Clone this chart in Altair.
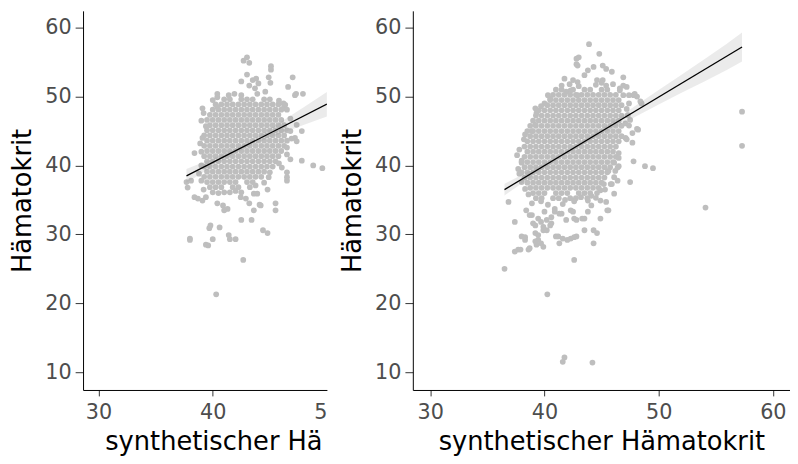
import altair as alt
import pandas as pd

# ---------------- data ----------------
# left panel: dense core, given as rows (y value, x values)
left_core_y = [49.6, 48.85, 48.1, 47.35, 46.6, 45.85, 45.1, 44.35, 43.6, 42.85,
               42.1, 41.35, 40.6, 39.85, 39.1, 38.35, 37.6, 36.85, 36.1]
left_core_x = [
    [41.0, 41.5, 42.5, 43.0, 43.5, 44.5, 45.0],
    [40.25, 40.75, 41.25, 41.75, 42.25, 42.75, 43.25, 43.75, 44.25, 44.75, 45.25, 45.75],
    [40.0, 40.5, 41.0, 41.5, 42.0, 42.5, 43.0, 43.5, 44.0, 44.5, 45.0, 45.5, 46.0],
    [39.75, 40.25, 40.75, 41.25, 41.75, 42.25, 42.75, 43.25, 43.75, 44.25, 44.75, 45.25, 45.75],
    [39.5, 40.0, 40.5, 41.0, 41.5, 42.0, 42.5, 43.0, 43.5, 44.0, 44.5, 45.0, 45.5, 46.0],
    [39.75, 40.25, 40.75, 41.25, 41.75, 42.25, 42.75, 43.25, 43.75, 44.25, 44.75, 45.25, 45.75, 46.25],
    [39.5, 40.0, 40.5, 41.0, 41.5, 42.0, 42.5, 43.0, 43.5, 44.0, 44.5, 45.0, 45.5, 46.0, 46.5],
    [39.25, 39.75, 40.25, 40.75, 41.25, 41.75, 42.25, 42.75, 43.25, 43.75, 44.25, 44.75, 45.25, 45.75, 46.25],
    [39.5, 40.0, 40.5, 41.0, 41.5, 42.0, 42.5, 43.0, 43.5, 44.0, 44.5, 45.0, 45.5, 46.0, 46.5],
    [39.25, 39.75, 40.25, 40.75, 41.25, 41.75, 42.25, 42.75, 43.25, 43.75, 44.25, 44.75, 45.25, 45.75, 46.25],
    [39.5, 40.0, 40.5, 41.0, 41.5, 42.0, 42.5, 43.0, 43.5, 44.0, 44.5, 45.0, 45.5, 46.0],
    [39.25, 39.75, 40.25, 40.75, 41.25, 41.75, 42.25, 42.75, 43.25, 43.75, 44.25, 44.75, 45.25, 45.75],
    [39.5, 40.0, 40.5, 41.0, 41.5, 42.0, 42.5, 43.0, 43.5, 44.0, 44.5, 45.0, 45.5],
    [39.25, 39.75, 40.25, 40.75, 41.25, 41.75, 42.25, 42.75, 43.25, 43.75, 44.25, 44.75, 45.25],
    [39.5, 40.0, 40.5, 41.0, 41.5, 42.0, 42.5, 43.0, 43.5, 44.0, 44.5],
    [39.25, 39.75, 40.25, 40.75, 41.25, 41.75, 42.25, 42.75, 43.25, 43.75, 44.25],
    [39.5, 40.0, 40.5, 41.0, 41.5, 42.0, 43.0, 43.5],
    [39.75, 40.25, 40.75, 41.75, 42.25, 43.25],
    [40.0, 41.0, 41.5, 42.5],
]
# left panel: scattered points (x, y)
left_scatter = [
    (42.7, 55.2), (43.0, 55.7), (43.2, 54.9), (45.1, 54.4), (45.1, 53.9), (43.0, 53.2),
    (44.9, 52.8), (47.0, 52.8), (42.5, 52.2), (43.5, 52.4), (43.8, 52.6), (44.0, 51.9),
    (43.2, 51.6), (43.7, 51.2), (43.9, 50.4), (45.05, 52.0), (46.6, 51.4), (47.3, 50.4),
    (47.2, 50.2), (47.9, 50.4), (40.4, 50.4), (40.4, 49.9), (41.4, 50.2), (41.9, 50.4),
    (42.5, 50.2), (44.6, 50.7), (39.1, 48.3), (39.2, 47.6), (40.4, 48.5), (46.35, 48.8),
    (46.2, 48.3), (46.5, 48.1), (39.4, 45.7), (39.1, 44.0), (47.35, 45.9), (47.8, 45.0),
    (47.2, 44.0), (47.35, 43.5), (38.4, 41.8), (46.5, 41.6), (46.8, 40.9), (47.8, 40.7),
    (48.8, 40.0), (49.6, 39.6), (46.05, 39.7), (46.5, 39.0), (46.5, 37.8), (44.9, 38.3),
    (37.7, 37.6), (37.8, 36.8), (38.1, 37.8), (38.4, 35.4), (38.7, 35.2), (39.1, 34.9),
    (39.4, 35.4), (40.4, 34.5), (40.9, 34.2), (41.3, 33.7), (41.0, 33.5), (42.5, 32.1),
    (43.4, 32.1), (43.2, 34.5), (44.1, 34.3), (45.5, 34.5), (45.5, 33.5), (43.6, 33.5),
    (43.9, 35.9), (43.75, 37.1), (42.45, 35.4), (42.9, 35.2), (43.6, 35.9), (44.2, 34.2),
    (46.5, 38.3), (39.8, 31.3), (39.7, 30.9), (40.6, 31.0), (38.0, 29.4), (38.0, 29.2),
    (40.0, 29.3), (39.4, 28.5), (39.6, 28.4), (41.4, 29.9), (41.5, 29.3), (42.0, 29.3),
    (44.4, 30.6), (44.8, 30.2), (42.67, 26.3), (40.3, 21.3),
    (40.0, 49.5), (45.8, 49.4), (46.2, 49.0), (39.0, 46.5), (38.9, 43.2), (39.0, 42.0),
    (39.0, 40.0), (38.8, 38.8), (39.0, 37.8), (44.5, 37.5), (45.0, 39.0), (45.8, 40.3),
    (46.5, 42.6), (46.9, 43.9), (46.8, 45.0), (46.8, 46.8), (44.8, 36.5), (40.5, 36.0),
    (42.0, 36.3), (39.2, 36.5),
]

# right panel: dense core rows
right_core_y = [51.0, 50.25, 49.5, 48.75, 48.0, 47.25, 46.5, 45.75, 45.0, 44.25, 43.5,
                42.75, 42.0, 41.25, 40.5, 39.75, 39.0, 38.25, 37.5, 36.75, 36.0, 35.25]
right_core_x = [
    [41.0, 41.5, 42.5, 43.5, 44.0, 45.0, 45.5],
    [40.75, 41.25, 41.75, 42.25, 42.75, 43.25, 43.75, 44.25, 44.75, 45.25, 45.75, 46.25],
    [40.5, 41.0, 41.5, 42.0, 42.5, 43.0, 43.5, 44.0, 44.5, 45.0, 45.5, 46.0, 46.5],
    [40.25, 40.75, 41.25, 41.75, 42.25, 42.75, 43.25, 43.75, 44.25, 44.75, 45.25, 45.75, 46.25, 46.75],
    [39.5, 40.0, 40.5, 41.0, 41.5, 42.0, 42.5, 43.0, 43.5, 44.0, 44.5, 45.0, 45.5, 46.0, 46.5],
    [39.25, 39.75, 40.25, 40.75, 41.25, 41.75, 42.25, 42.75, 43.25, 43.75, 44.25, 44.75, 45.25, 45.75, 46.25, 46.75],
    [39.0, 39.5, 40.0, 40.5, 41.0, 41.5, 42.0, 42.5, 43.0, 43.5, 44.0, 44.5, 45.0, 45.5, 46.0, 46.5],
    [38.75, 39.25, 39.75, 40.25, 40.75, 41.25, 41.75, 42.25, 42.75, 43.25, 43.75, 44.25, 44.75, 45.25, 45.75, 46.25, 46.75],
    [38.5, 39.0, 39.5, 40.0, 40.5, 41.0, 41.5, 42.0, 42.5, 43.0, 43.5, 44.0, 44.5, 45.0, 45.5, 46.0, 46.5],
    [38.75, 39.25, 39.75, 40.25, 40.75, 41.25, 41.75, 42.25, 42.75, 43.25, 43.75, 44.25, 44.75, 45.25, 45.75, 46.25, 46.75],
    [38.5, 39.0, 39.5, 40.0, 40.5, 41.0, 41.5, 42.0, 42.5, 43.0, 43.5, 44.0, 44.5, 45.0, 45.5, 46.0, 46.5],
    [38.25, 38.75, 39.25, 39.75, 40.25, 40.75, 41.25, 41.75, 42.25, 42.75, 43.25, 43.75, 44.25, 44.75, 45.25, 45.75, 46.25],
    [38.5, 39.0, 39.5, 40.0, 40.5, 41.0, 41.5, 42.0, 42.5, 43.0, 43.5, 44.0, 44.5, 45.0, 45.5, 46.0],
    [38.25, 38.75, 39.25, 39.75, 40.25, 40.75, 41.25, 41.75, 42.25, 42.75, 43.25, 43.75, 44.25, 44.75, 45.25, 45.75, 46.25],
    [38.0, 38.5, 39.0, 39.5, 40.0, 40.5, 41.0, 41.5, 42.0, 42.5, 43.0, 43.5, 44.0, 44.5, 45.0, 45.5, 46.0],
    [38.25, 38.75, 39.25, 39.75, 40.25, 40.75, 41.25, 41.75, 42.25, 42.75, 43.25, 43.75, 44.25, 44.75, 45.25, 45.75],
    [38.0, 38.5, 39.0, 39.5, 40.0, 40.5, 41.0, 41.5, 42.0, 42.5, 43.0, 43.5, 44.0, 44.5, 45.0, 45.5],
    [38.25, 38.75, 39.25, 39.75, 40.25, 40.75, 41.25, 41.75, 42.25, 42.75, 43.25, 43.75, 44.25, 44.75, 45.25],
    [38.5, 39.0, 39.5, 40.0, 40.5, 41.0, 41.5, 42.0, 42.5, 43.0, 43.5, 44.0, 44.5, 45.0],
    [38.75, 39.25, 39.75, 40.25, 40.75, 41.25, 41.75, 42.25, 42.75, 43.25, 43.75, 44.25, 44.75],
    [39.0, 39.5, 40.0, 41.0, 41.5, 42.0, 43.0, 43.5, 44.0],
    [39.25, 39.75, 40.75, 41.25, 42.25, 42.75, 43.75],
]
# right panel: scattered points (x, y)
right_scatter = [
    (43.9, 57.6), (44.8, 56.2), (42.8, 55.5), (43.0, 55.7), (42.8, 54.7), (42.9, 54.5),
    (44.3, 54.3), (45.1, 54.5), (45.4, 54.0), (45.9, 53.6), (46.9, 52.8), (41.75, 52.6),
    (42.5, 52.4), (42.9, 52.1), (43.8, 53.8), (43.5, 53.1), (44.6, 52.4), (45.1, 52.4),
    (45.4, 51.6), (46.6, 51.2), (47.2, 51.4), (46.9, 50.2), (47.8, 50.2), (40.3, 50.2),
    (40.5, 49.7), (39.2, 48.3), (39.3, 47.6), (41.9, 50.7), (42.3, 50.9), (42.9, 50.2),
    (39.2, 45.9), (38.9, 45.0), (38.0, 40.7), (38.0, 40.4), (46.9, 51.6), (46.6, 50.9),
    (47.4, 50.2), (47.9, 50.4), (48.1, 50.0), (47.4, 49.0), (48.5, 49.0), (48.4, 49.3),
    (47.1, 46.1), (47.4, 45.8), (48.1, 45.3), (47.7, 44.7), (48.2, 45.2), (47.1, 44.0),
    (47.2, 43.8), (47.7, 43.3), (47.8, 40.6), (48.8, 39.9), (49.5, 39.6), (47.5, 37.6),
    (54.1, 33.9), (57.3, 47.8), (57.3, 42.85), (46.1, 35.9), (45.8, 37.3), (46.4, 37.8),
    (46.2, 39.2), (46.1, 40.4), (46.5, 41.1), (46.5, 41.8), (46.5, 39.9),
    (36.85, 34.7), (36.5, 25.0), (37.4, 31.8), (38.0, 29.7), (38.3, 29.2), (38.7, 28.0),
    (37.7, 27.8), (37.4, 27.5), (38.9, 32.8), (39.0, 31.6), (39.45, 32.3), (39.7, 31.8),
    (39.9, 31.1), (40.2, 30.6), (40.6, 31.6), (39.2, 30.2), (39.45, 29.2), (39.7, 28.7),
    (39.3, 28.5), (41.2, 29.7), (41.6, 29.4), (42.0, 29.2), (41.3, 28.7), (42.8, 29.7),
    (42.3, 29.4), (42.6, 26.3), (43.5, 30.6), (44.3, 30.6), (44.6, 30.2), (44.3, 28.7),
    (44.9, 32.3), (45.5, 33.5), (45.4, 34.7), (43.5, 32.3), (42.6, 32.3), (41.9, 32.1),
    (41.5, 33.0), (40.9, 33.3), (42.3, 33.5), (38.4, 33.5), (38.9, 34.5), (43.8, 34.9),
    (44.1, 35.6), (44.9, 36.4), (45.2, 37.3), (45.9, 37.3), (46.1, 38.3), (46.4, 39.7),
    (45.6, 39.2), (38.6, 27.8), (40.25, 21.3), (41.75, 12.15), (41.6, 11.5), (44.2, 11.4),
    (38.7, 32.8), (39.2, 31.3), (40.2, 32.1), (40.5, 31.3), (39.9, 30.6), (39.45, 29.9),
    (38.3, 29.6), (39.2, 29.0), (39.9, 28.2), (37.9, 27.8), (41.0, 29.7), (42.6, 29.6),
    (42.5, 33.3), (42.8, 32.1), (43.3, 32.3), (43.8, 33.3), (44.1, 34.2), (44.9, 34.9),
    (40.9, 33.7), (41.3, 33.0), (41.6, 34.4), (40.6, 32.5), (40.0, 33.3), (45.6, 33.5),
    (41.5, 51.6), (42.2, 51.8), (43.0, 51.5), (44.5, 51.7), (45.0, 52.0), (46.0, 51.8),
    (40.0, 49.0), (39.7, 48.6), (47.2, 48.2), (47.3, 47.3), (47.5, 46.6), (38.3, 44.5),
    (38.2, 43.8), (37.8, 42.3), (37.6, 41.5), (37.7, 39.5), (37.8, 38.8), (38.0, 37.6),
    (38.3, 36.6), (38.6, 35.8), (44.6, 36.0), (45.3, 36.5), (44.5, 35.3), (39.7, 34.8),
    (40.3, 34.3), (41.8, 35.0), (42.6, 34.8), (43.2, 35.4),
]

# regression lines (end points) and confidence bands
left_line_x = [37.7, 50.0]
left_line_y = [38.5, 48.9]
left_band_x = [37.7, 39.0, 40.5, 42.0, 43.5, 45.0, 46.5, 48.0, 50.0]
left_band_lo = [37.5, 38.85, 40.38, 41.81, 43.05, 44.06, 44.98, 45.9, 47.1]
left_band_hi = [39.5, 40.35, 41.34, 42.45, 43.75, 45.26, 46.88, 48.5, 50.65]

right_line_x = [36.5, 57.3]
right_line_y = [36.5, 57.2]
right_band_x = [36.5, 38.0, 40.0, 42.0, 44.0, 46.0, 48.0, 50.0, 52.0, 54.0, 56.0, 57.3]
right_band_lo = [35.65, 37.4, 39.65, 41.73, 43.63, 45.4, 47.1, 48.85, 50.55, 52.2, 53.9, 55.1]
right_band_hi = [37.35, 38.6, 40.35, 42.17, 44.23, 46.4, 48.7, 50.95, 53.15, 55.4, 57.7, 59.3]

y_ticks = [10, 20, 30, 40, 50, 60]
left_x_ticks = [30, 40, 50]
right_x_ticks = [30, 40, 50, 60]

x_title = "synthetischer Hämatokrit"
y_title = "Hämatokrit"

# ---------------- build tables ----------------
def points_table(core_y, core_x, scatter):
    rows = []
    for yy, xs in zip(core_y, core_x):
        for xx in xs:
            rows.append({"x": xx, "y": yy})
    for xx, yy in scatter:
        rows.append({"x": xx, "y": yy})
    return pd.DataFrame(rows)

left_pts = points_table(left_core_y, left_core_x, left_scatter)
right_pts = points_table(right_core_y, right_core_x, right_scatter)
left_band = pd.DataFrame({"x": left_band_x, "lo": left_band_lo, "hi": left_band_hi})
right_band = pd.DataFrame({"x": right_band_x, "lo": right_band_lo, "hi": right_band_hi})
left_line = pd.DataFrame({"x": left_line_x, "y": left_line_y})
right_line = pd.DataFrame({"x": right_line_x, "y": right_line_y})

FONT = "DejaVu Sans"
PT_COLOR = "#bebebe"
YDOM = [7.42, 62.44]


def panel(pts, band, line, xdom, xticks, width, xaxis_kwargs):
    xscale = alt.Scale(domain=xdom, nice=False, zero=False)
    yscale = alt.Scale(domain=YDOM, nice=False, zero=False)
    xaxis = alt.Axis(values=xticks, tickSize=6, labelPadding=6, titlePadding=6,
                     labelFlush=False, **xaxis_kwargs)
    yaxis = alt.Axis(values=y_ticks, title=y_title, tickSize=8, labelPadding=4,
                     titlePadding=9, labelFlush=False)
    p = alt.Chart(pts).mark_circle(size=34, color=PT_COLOR, opacity=1, clip=True).encode(
        x=alt.X("x:Q", scale=xscale, axis=xaxis),
        y=alt.Y("y:Q", scale=yscale, axis=yaxis),
    )
    b = alt.Chart(band).mark_area(color="#999999", opacity=0.2, clip=True).encode(
        x=alt.X("x:Q", scale=xscale),
        y=alt.Y("lo:Q", scale=yscale),
        y2="hi:Q",
    )
    l = alt.Chart(line).mark_line(color="black", strokeWidth=1.3, clip=True).encode(
        x=alt.X("x:Q", scale=xscale),
        y=alt.Y("y:Q", scale=yscale),
    )
    return alt.layer(p, b, l).properties(width=width, height=384)


left = panel(
    left_pts, left_band, left_line, [28.64, 50.0], left_x_ticks, 247,
    dict(
        title="synthetischer Hä",
        titleAnchor="start", titleAlign="left", titleX=22,
        labelExpr="datum.value == 50 ? '5' : datum.label",
        labelAlign={"condition": {"test": "datum.value == 50", "value": "right"}, "value": "center"},
        tickColor={"condition": {"test": "datum.value == 50", "value": "transparent"}, "value": "#333333"},
    ),
)
right = panel(
    right_pts, right_band, right_line, [28.47, 61.5], right_x_ticks, 382,
    dict(title=x_title),
)

chart = alt.hconcat(left, right, spacing=12).properties(
    padding={"left": 2, "top": 0, "right": 0, "bottom": 0}
).configure_view(stroke=None).configure_axis(
    grid=False,
    domainColor="black",
    domainWidth=1,
    tickColor="#333333",
    tickWidth=1,
    labelColor="#4d4d4d",
    labelFont=FONT,
    labelFontSize=21,
    titleFont=FONT,
    titleFontSize=26,
    titleFontWeight="normal",
    titleColor="black",
)

chart.save("out.html", embed_options={"renderer": "svg", "actions": False})
